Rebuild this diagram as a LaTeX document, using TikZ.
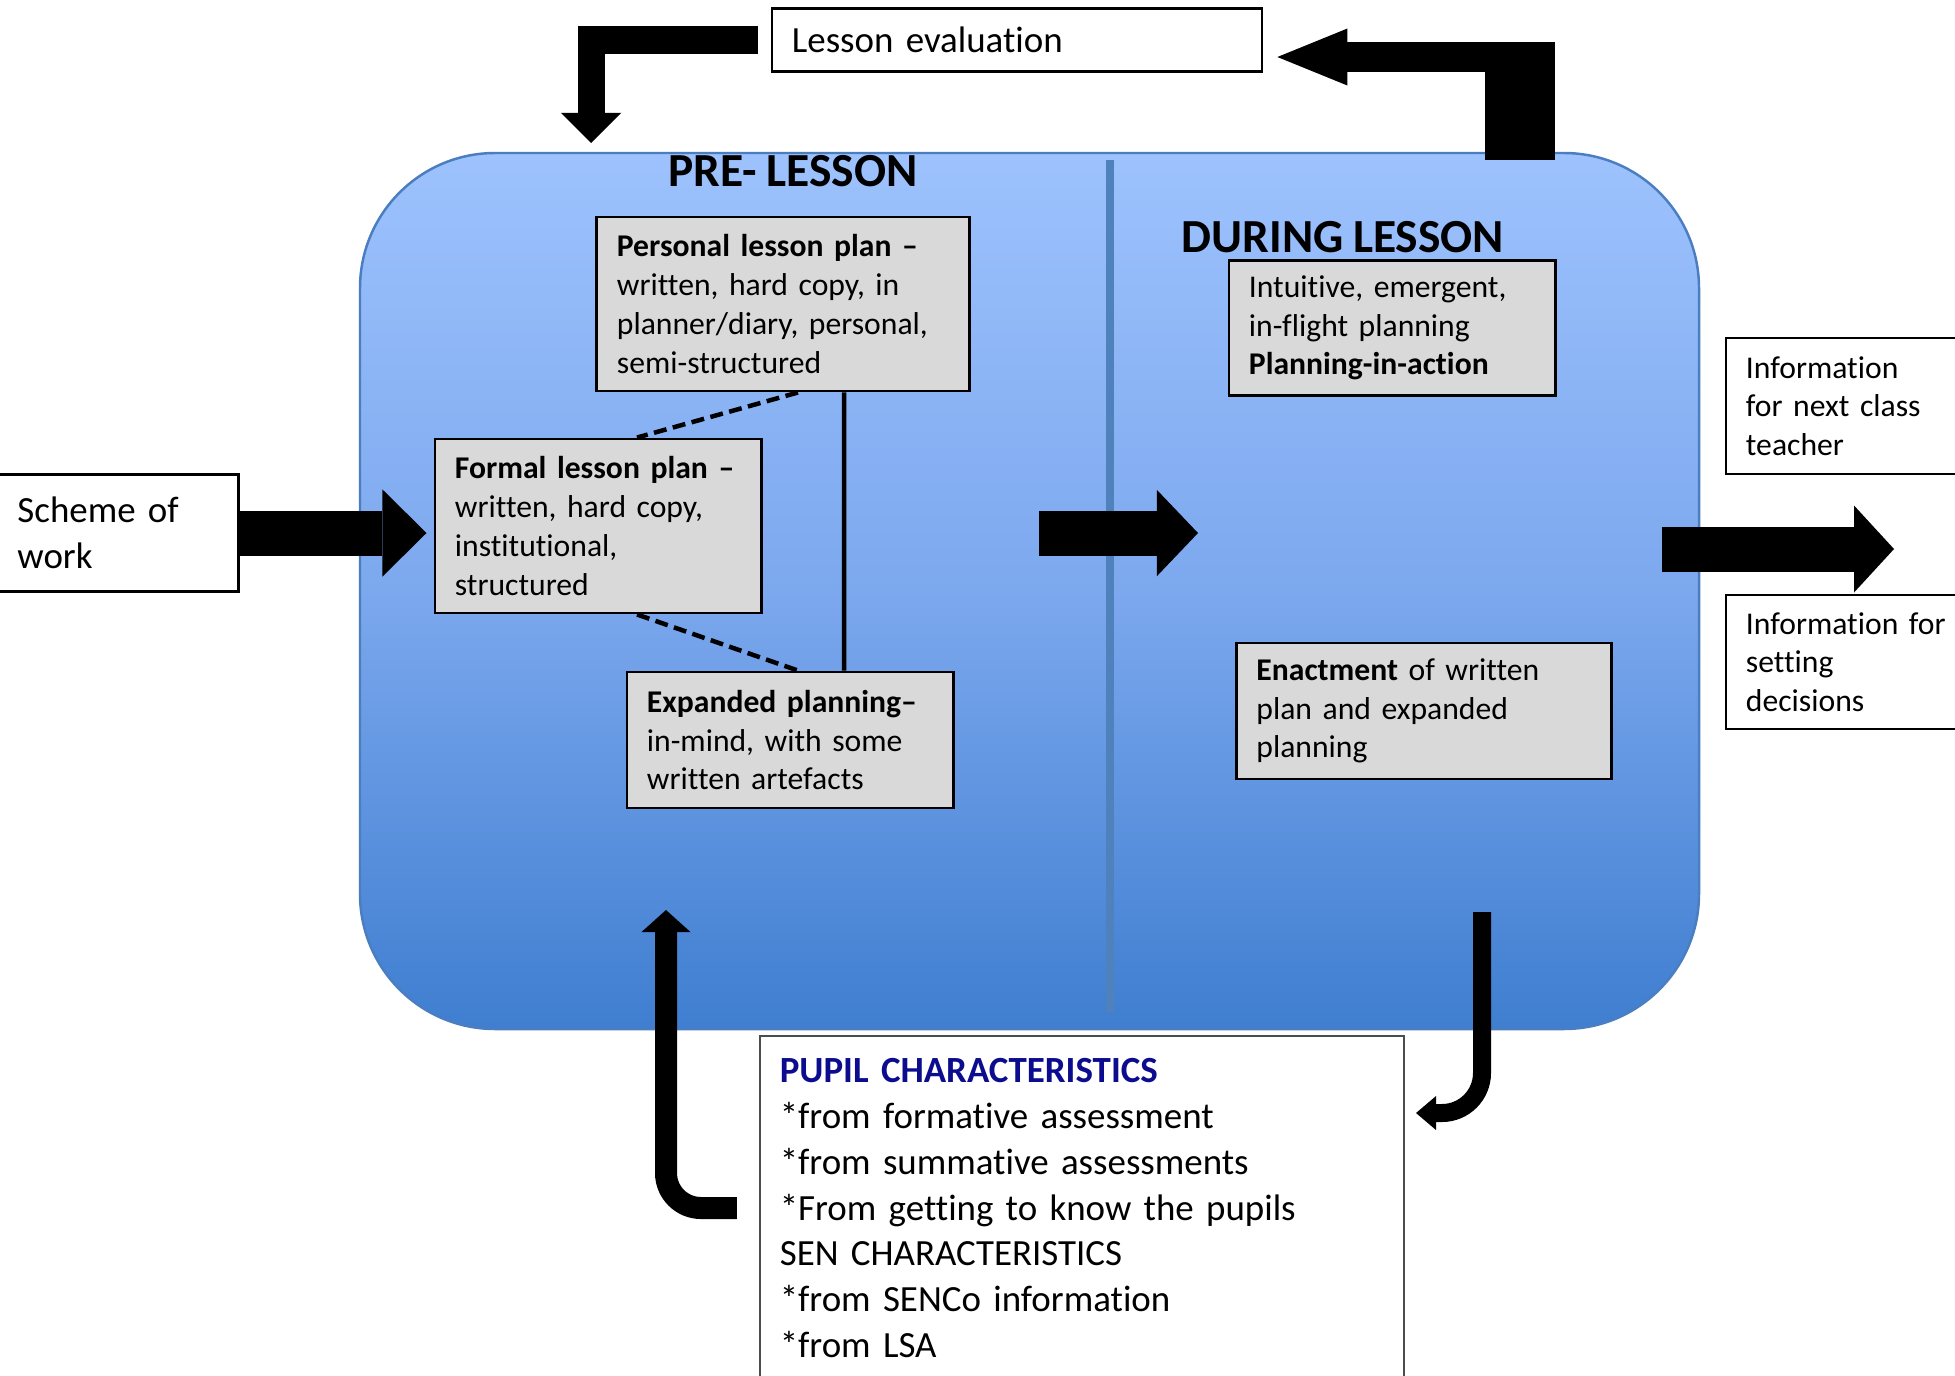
\documentclass[tikz,border=0pt]{standalone}
\usepackage{fontspec}
\setmainfont[Ligatures=NoCommon, WordSpace=0.88]{Carlito}
\usetikzlibrary{arrows.meta,positioning}

\definecolor{paneltop}{HTML}{9DC2FD}
\definecolor{panelmid}{HTML}{7CA8EE}
\definecolor{panelbot}{HTML}{3F7ED0}
\definecolor{paneledge}{HTML}{4A7EC0}
\definecolor{splitline}{HTML}{4F81BD}
\definecolor{plangray}{HTML}{D9D9D9}
\definecolor{titlenavy}{HTML}{0C0C8F}

\tikzset{
  planbox/.style={draw=black, line width=0.8pt, fill=plangray, align=left,
    inner xsep=0.2cm, inner ysep=0pt, font=\fontsize{9}{11}\selectfont},
  notebox/.style={draw=black, line width=0.7pt, fill=white, align=left,
    inner xsep=0.2cm, inner ysep=0pt, font=\fontsize{9}{11}\selectfont},
  bignote/.style={notebox, font=\fontsize{10.5}{13}\selectfont},
  heading/.style={font=\fontsize{13.5}{16}\selectfont\bfseries, inner sep=0pt},
  tie/.style={line width=.045cm},
  loosetie/.style={tie, dash pattern=on .13cm off .065cm},
  fatarrow/.style={line width=.45cm, -{Triangle[length=.44cm, width=.87cm, line width=0pt]}},
}

\begin{document}
\frenchspacing
\begin{tikzpicture}[x=0.01cm, y=-0.01cm]
  \useasboundingbox (0,0) rectangle (1955,1375);

  % the lesson panel
  \path[draw=paneledge, line width=0.7pt, top color=paneltop, bottom color=panelbot,
    middle color=panelmid, rounded corners=1.35cm] (360,153) rectangle (1699,1029);
  \draw[splitline, line width=.08cm] (1110,160) -- (1110,1012);

  \node[heading] (prehead) at (793,171) {PRE- LESSON};
  \node[heading] (durhead) at (1343,237) {DURING LESSON};

  % planning boxes
  \node[planbox, text width=3.32cm, minimum height=1.74cm] (personal) at (783,304)
    {\textbf{Personal lesson plan –}\\ written, hard copy, in\\ planner/diary, personal,\\ semi-structured};
  \node[planbox, text width=2.86cm, minimum height=1.74cm] (formal) at (598,526)
    {\textbf{Formal lesson plan –}\\ written, hard copy,\\ institutional,\\ structured};
  \node[planbox, text width=2.86cm, minimum height=1.36cm] (expanded) at (790,740)
    {\textbf{Expanded planning–}\\ in-mind, with some\\ written artefacts};
  \node[planbox, text width=2.86cm, minimum height=1.35cm] (intuitive) at (1392,328)
    {Intuitive, emergent,\\ in-flight planning\\ \textbf{Planning-in-action}};
  \node[planbox, text width=3.35cm, minimum height=1.36cm] (enact) at (1424,711)
    {\textbf{Enactment} of written\\ plan and expanded\\ planning};

  % outside the panel
  \node[bignote, text width=4.50cm, minimum height=0.63cm] (eval) at (1017,40) {Lesson evaluation};
  \node[bignote, text width=2.01cm, minimum height=1.17cm] (scheme) at (118,533) {Scheme of\\ work};
  \node[notebox, text width=2.40cm, minimum height=1.36cm] (infonext) at (1866,406)
    {Information\\ for next class\\ teacher};
  \node[notebox, text width=2.40cm, minimum height=1.34cm] (infoset) at (1866,662)
    {Information for\\ setting\\ decisions};
  \node[bignote, draw=black!70, line width=0.5pt, text width=6.04cm, minimum height=3.44cm] (pupil) at (1082,1208)
    {\textcolor{titlenavy}{\textbf{PUPIL CHARACTERISTICS}}\\{*}from formative assessment\\
     {*}from summative assessments\\{*}From getting to know the pupils\\ SEN CHARACTERISTICS\\
     {*}from SENCo information\\{*}from LSA};

  % links between the plans
  \draw[tie] ([xshift=.61cm]personal.south) -- ([xshift=.54cm]expanded.north);
  \draw[loosetie] ([xshift=.15cm]personal.south) -- ([xshift=.39cm]formal.north);
  \draw[loosetie] ([xshift=.39cm]formal.south) -- ([xshift=.08cm]expanded.north);

  % free ends of the block arrows
  \coordinate (midtail) at (1039,533);
  \coordinate (midtip) at (1198,533);
  \coordinate (outtail) at (1662,549);
  \coordinate (outtip) at (1894,549);
  \coordinate (intotop) at (591,143);
  \coordinate (outtop) at (1520,160);
  \coordinate (evalback) at (1555,57);
  \coordinate (preup) at (666,910);
  \coordinate (durdown) at (1482,912);
  \coordinate (pupiltip) at (1416,1113);

  \draw[fatarrow, shorten >=.07cm] (scheme.east) -- (scheme.east -| formal.west);
  \draw[fatarrow, -{Triangle[length=.41cm, width=.86cm, line width=0pt]}] (midtail) -- (midtip);
  \draw[fatarrow, -{Triangle[length=.40cm, width=.87cm, line width=0pt]}] (outtail) -- (outtip);

  \draw[line width=.27cm, -{Triangle[length=.30cm, width=.60cm, line width=0pt]}]
    ([xshift=-.13cm]eval.west) -| (intotop);
  \draw[line width=.70cm] (outtop) -- (1520,43);
  \draw[line width=.29cm, shorten >=.14cm, -{Triangle[length=.70cm, width=.57cm, line width=0pt]}]
    (evalback) -- (evalback -| eval.east);

  \draw[line width=.22cm, rounded corners=.35cm, -{Triangle[length=.22cm, width=.49cm, line width=0pt]}]
    ([xshift=-.22cm]pupil.west) -| (preup);
  \draw[line width=.18cm, rounded corners=.40cm, -{Triangle[length=.20cm, width=.34cm, line width=0pt]}]
    (durdown) |- (pupiltip);
\end{tikzpicture}
\end{document}
